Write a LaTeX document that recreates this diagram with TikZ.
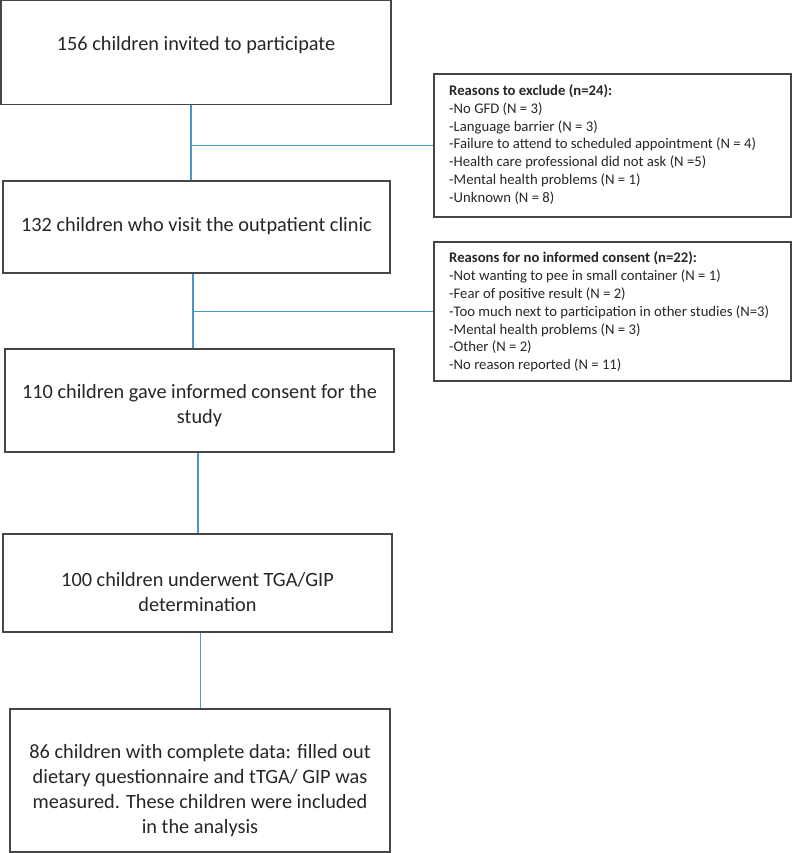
\documentclass[tikz,border=0pt]{standalone}
\usepackage{fontspec}
\setmainfont{Carlito}
\definecolor{boxline}{RGB}{70,70,70}
\definecolor{connblue}{RGB}{75,150,200}
\tikzset{
  box/.style={draw=boxline, line width=1.2pt, inner sep=0pt},
  maintext/.style={font=\fontsize{20.3}{25}\selectfont, align=center, inner sep=0pt, text=black!85},
  smalltext/.style={font=\fontsize{14.7}{17.8}\selectfont, align=left, inner sep=0pt, anchor=west, text=black!85},
  conn/.style={draw=connblue, line width=1.4pt}
}
\begin{document}
\begin{tikzpicture}[x=1pt,y=-1pt]
\useasboundingbox (0,0) rectangle (792,853);
% main boxes
\node[box, minimum width=390pt, minimum height=104.5pt] (b1) at (196,52.5) {};
\node[box, minimum width=387pt, minimum height=92pt] (b2) at (196.5,227) {};
\node[box, minimum width=389pt, minimum height=103pt] (b3) at (199.5,400.5) {};
\node[box, minimum width=389pt, minimum height=98pt] (b4) at (197.5,583) {};
\node[box, minimum width=380pt, minimum height=143pt] (b5) at (200,780.5) {};
% texts
\node[maintext] (t1) at (196,45) {156 children invited to participate};
\node[maintext] (t2) at (196.5,226) {132 children who visit the outpatient clinic};
\node[maintext] (t3) at (199.5,406) {110 children gave informed consent for the\\study};
\node[maintext] (t4) at (197.5,592) {100 children underwent TGA/GIP\\determination};
\node[maintext] (t5) at (200,791) {86 children with complete data: filled out\\dietary questionnaire and tTGA/ GIP was\\measured. These children were included\\in the analysis};
% side boxes
\node[box, minimum width=357pt, minimum height=143pt] (e1) at (612.5,145.5) {};
\node[box, minimum width=357pt, minimum height=139pt] (e2) at (612.5,311.5) {};
\node[smalltext] (s1) at (449,144.5) {\textbf{Reasons to exclude (n=24):}\\-No GFD (N = 3)\\-Language barrier (N = 3)\\-Failure to attend to scheduled appointment (N = 4)\\-Health care professional did not ask (N =5)\\-Mental health problems (N = 1)\\-Unknown (N = 8)};
\node[smalltext] (s2) at (449,312) {\textbf{Reasons for no informed consent (n=22):}\\-Not wanting to pee in small container (N = 1)\\-Fear of positive result (N = 2)\\-Too much next to participation in other studies (N=3)\\-Mental health problems (N = 3)\\-Other (N = 2)\\-No reason reported (N = 11)};
% connectors
\coordinate (c1) at ([xshift=-5pt]b1.south);
\coordinate (c2) at ([xshift=-3.5pt]b2.south);
\coordinate (c3) at ([xshift=-1.5pt]b3.south);
\coordinate (c4) at ([xshift=3pt]b4.south);
\draw[conn] (c1) -- (c1 |- b2.north);
\draw[conn] (c1 |- e1.west) -- (e1.west);
\draw[conn] (c2) -- (c2 |- b3.north);
\draw[conn] (c2 |- e2.west) -- (e2.west);
\draw[conn] (c3) -- (c3 |- b4.north);
\draw[conn] (c4) -- (c4 |- b5.north);
\end{tikzpicture}
\end{document}
